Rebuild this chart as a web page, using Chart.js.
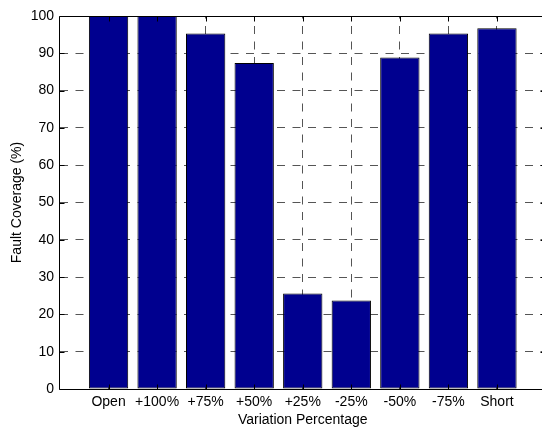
<!DOCTYPE html>
<html>
<head>
<meta charset="utf-8">
<title>Fault Coverage by Variation Percentage</title>
<script src="https://cdn.jsdelivr.net/npm/chart.js@4/dist/chart.umd.min.js"></script>
<style>
  html, body { margin: 0; padding: 0; background: #fff; overflow: hidden; }
  #wrap { width: 542px; height: 429px; overflow: hidden; }
  canvas { display: block; }
</style>
</head>
<body>
<div id="wrap"><canvas id="chart" width="560" height="429"></canvas></div>
<script>
// Fault types / component variations along the x axis
const categories = ['Open', '+100%', '+75%', '+50%', '+25%', '-25%', '-50%', '-75%', 'Short'];
// Fault coverage per category (%)
const coverage = [100, 100, 95.3, 87.4, 25.6, 23.7, 88.9, 95.3, 96.7];
// Y axis tick values
const yTicks = [0, 10, 20, 30, 40, 50, 60, 70, 80, 90, 100];

// Bars sit at x = 1..N on a linear axis running from 0 to N+1
const positions = categories.map((_, i) => i + 1);
const barData = positions.map((x, i) => ({ x: x, y: coverage[i] }));

const FONT = { family: '"Liberation Sans", Arial, sans-serif', size: 14 };
const GRID_DASH = [8, 7.5];

// Solid axes box plus short inward tick marks
const axesBox = {
  id: 'axesBox',
  afterDatasetsDraw(chart) {
    const { ctx, chartArea: a, scales } = chart;
    const L = Math.round(a.left) - 0.5;
    const R = Math.round(a.right) - 0.5;
    const T = Math.round(a.top) + 0.5;
    const B = Math.round(a.bottom) + 0.5;
    ctx.save();
    ctx.strokeStyle = '#000';
    ctx.lineWidth = 1;
    ctx.setLineDash([]);
    ctx.beginPath();
    ctx.moveTo(L, T); ctx.lineTo(R, T);
    ctx.moveTo(L, B); ctx.lineTo(R, B);
    ctx.moveTo(L, T); ctx.lineTo(L, B);
    ctx.moveTo(R, T); ctx.lineTo(R, B);
    const tk = 5;
    positions.forEach(v => {
      const px = Math.round(scales.x.getPixelForValue(v)) + 0.5;
      ctx.moveTo(px, B); ctx.lineTo(px, B - tk);
      ctx.moveTo(px, T); ctx.lineTo(px, T + tk);
    });
    yTicks.forEach(v => {
      const py = Math.round(scales.y.getPixelForValue(v)) + 0.5;
      ctx.moveTo(L, py); ctx.lineTo(L + tk, py);
      ctx.moveTo(R, py); ctx.lineTo(R - tk, py);
    });
    ctx.stroke();
    ctx.restore();
  }
};

new Chart(document.getElementById('chart'), {
  type: 'bar',
  data: {
    datasets: [{
      data: barData,
      backgroundColor: '#00008f',
      borderColor: '#000000',
      borderWidth: 1,
      borderSkipped: false,
      barPercentage: 0.81,
      categoryPercentage: 1.0
    }]
  },
  options: {
    responsive: false,
    animation: false,
    devicePixelRatio: 1,
    layout: { padding: { left: 0, top: 16, right: 14.5, bottom: 0 } },
    plugins: { legend: { display: false }, tooltip: { enabled: false } },
    scales: {
      x: {
        type: 'linear',
        offset: false,
        min: 0,
        max: categories.length + 1,
        afterBuildTicks(scale) { scale.ticks = positions.map(v => ({ value: v })); },
        afterFit(scale) { scale.height = 40; },
        ticks: {
          color: '#000',
          font: FONT,
          padding: 5,
          maxRotation: 0,
          autoSkip: false,
          callback: (v) => categories[v - 1] ?? ''
        },
        grid: { color: '#555', lineWidth: 1, drawTicks: false, offset: false },
        border: { display: false, dash: GRID_DASH, dashOffset: 5.5 },
        title: {
          display: true,
          text: 'Variation Percentage',
          color: '#000',
          font: FONT,
          padding: { top: 0, bottom: 0 }
        }
      },
      y: {
        min: 0,
        max: 100,
        afterBuildTicks(scale) { scale.ticks = yTicks.map(v => ({ value: v })); },
        afterFit(scale) { scale.width = 60; },
        ticks: { color: '#000', font: FONT, padding: 6 },
        grid: { color: '#555', lineWidth: 1, drawTicks: false },
        border: { display: false, dash: GRID_DASH, dashOffset: 0 },
        title: {
          display: true,
          text: 'Fault Coverage (%)',
          color: '#000',
          font: FONT,
          padding: { top: 9, bottom: 0 }
        }
      }
    }
  },
  plugins: [axesBox]
});
</script>
</body>
</html>
